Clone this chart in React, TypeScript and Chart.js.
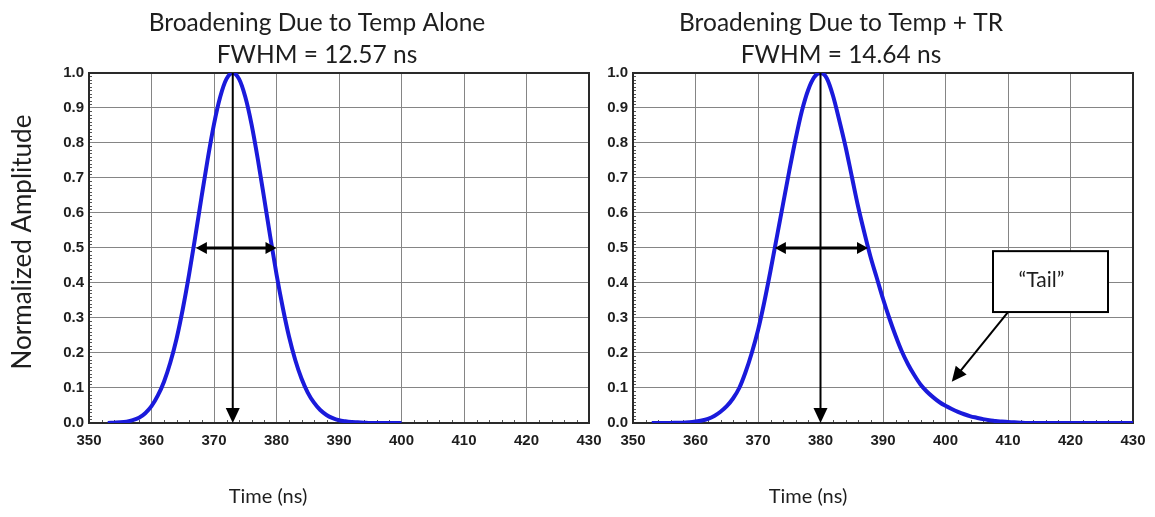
import React, { useEffect, useRef } from "react";
import { Chart, registerables } from "chart.js";

Chart.register(...registerables);

// ---------------- data ----------------
const timeTicks = [350, 360, 370, 380, 390, 400, 410, 420, 430];
const amplitudeTicks = [0, 0.1, 0.2, 0.3, 0.4, 0.5, 0.6, 0.7, 0.8, 0.9, 1.0];

const leftTitle = ["Broadening Due to Temp Alone", "FWHM = 12.57 ns"];
const rightTitle = ["Broadening Due to Temp + TR", "FWHM = 14.64 ns"];
const yAxisTitle = "Normalized Amplitude";
const xAxisTitle = "Time (ns)";
const tailText = "\u201CTail\u201D";

const tempAloneTime = [
  353, 354, 355, 356, 357, 358, 359, 360, 361, 362, 363, 364, 365, 366, 367, 368,
  369, 370, 371, 372, 373, 374, 375, 376, 377, 378, 379, 380, 381, 382, 383, 384,
  385, 386, 387, 388, 389, 390, 391, 392, 393, 394, 395, 396, 397, 398, 399, 400,
];
const tempAloneAmplitude = [
  0, 0.001, 0.002, 0.004, 0.008, 0.015, 0.028, 0.048, 0.078, 0.118, 0.172, 0.24,
  0.325, 0.423, 0.532, 0.645, 0.755, 0.854, 0.932, 0.983, 1.0, 0.983, 0.932, 0.854,
  0.755, 0.645, 0.532, 0.425, 0.33, 0.247, 0.18, 0.127, 0.087, 0.058, 0.037, 0.023,
  0.014, 0.008, 0.005, 0.003, 0.002, 0.001, 0, 0, 0, 0, 0, 0,
];

const tempTrTime = [
  353, 354, 355, 356, 357, 358, 359, 360, 361, 362, 363, 364, 365, 366, 367, 368,
  369, 370, 371, 372, 373, 374, 375, 376, 377, 378, 379, 380, 381, 382, 383, 384,
  385, 386, 387, 388, 389, 390, 391, 392, 393, 394, 395, 396, 397, 398, 399, 400,
  401, 402, 403, 404, 405, 406, 407, 408, 409, 410, 411, 412, 413, 414, 415, 416,
  417, 418, 419, 420, 421, 422, 423, 424, 425, 426, 427, 428, 429, 430,
];
const tempTrAmplitude = [
  0, 0, 0, 0, 0.001, 0.001, 0.002, 0.004, 0.007, 0.012, 0.02, 0.032,
  0.048, 0.07, 0.1, 0.145, 0.2, 0.265, 0.345, 0.435, 0.53, 0.625, 0.72, 0.81,
  0.89, 0.95, 0.988, 1.0, 0.985, 0.935, 0.865, 0.79, 0.705, 0.62, 0.545, 0.475,
  0.415, 0.355, 0.3, 0.25, 0.205, 0.168, 0.137, 0.11, 0.09, 0.074, 0.06, 0.049,
  0.04, 0.032, 0.025, 0.019, 0.015, 0.011, 0.008, 0.006, 0.004, 0.003, 0.002, 0.001,
  0, 0, 0, 0, 0, 0, 0, 0, 0, 0, 0, 0, 0, 0, 0, 0, 0, 0,
];

// annotation values (data units)
const tempAlonePeak = 373;
const tempAloneHalfMax = [367.1, 380.0];
const tempTrPeak = 380;
const tempTrHalfMax = [372.7, 387.6];
const halfMaxLevel = 0.5;
const tailBox = { x1: 407.6, x2: 426.0, yTop: 0.491, yBottom: 0.317 };
const tailArrow = { fromX: 410.0, fromY: 0.317, toX: 401.0, toY: 0.118 };

// ---------------- styling ----------------
const TEXT_FONT = "Lato, 'Open Sans', sans-serif";
const TICK_FONT = "'Liberation Sans', Arial, sans-serif";
const LINE_BLUE = "#1a1adb";
const GRID_GREY = "#858585";
const INK = "#1e1e1e";

function drawHead(ctx: any, tx: number, ty: number, angle: number, len: number, halfW: number) {
  const bx = tx - len * Math.cos(angle);
  const by = ty - len * Math.sin(angle);
  ctx.beginPath();
  ctx.moveTo(tx, ty);
  ctx.lineTo(bx + halfW * Math.sin(angle), by - halfW * Math.cos(angle));
  ctx.lineTo(bx - halfW * Math.sin(angle), by + halfW * Math.cos(angle));
  ctx.closePath();
  ctx.fill();
}

const marksPlugin = {
  id: "marks",
  beforeDatasetsDraw(chart: any) {
    const { ctx, chartArea: a, scales } = chart;
    const x = scales.x;
    const y = scales.y;
    ctx.save();
    ctx.strokeStyle = "#555";
    ctx.lineWidth = 1;
    for (let i = 1; i < 100; i++) {
      if (i % 10 === 0) continue;
      const py = Math.round(y.getPixelForValue(i / 100)) + 0.5;
      ctx.beginPath();
      ctx.moveTo(a.left, py);
      ctx.lineTo(a.left + 3, py);
      ctx.stroke();
    }
    for (let v = 352; v < 430; v += 2) {
      if (v % 10 === 0) continue;
      const px = Math.round(x.getPixelForValue(v)) + 0.5;
      ctx.beginPath();
      ctx.moveTo(px, a.bottom);
      ctx.lineTo(px, a.bottom - 3);
      ctx.stroke();
    }
    ctx.strokeStyle = "#2a2a2a";
    ctx.lineWidth = 2;
    ctx.strokeRect(a.left, a.top, a.right - a.left, a.bottom - a.top);
    ctx.restore();
  },
  afterDatasetsDraw(chart: any, _args: any, opts: any) {
    const { ctx, chartArea: a, scales } = chart;
    const x = scales.x;
    const y = scales.y;
    ctx.save();
    ctx.strokeStyle = "#000";
    ctx.fillStyle = "#000";

    // vertical peak arrow
    const px = x.getPixelForValue(opts.peak);
    const headLen = 15;
    ctx.lineWidth = 2;
    ctx.beginPath();
    ctx.moveTo(px, y.getPixelForValue(1.0));
    ctx.lineTo(px, a.bottom - headLen + 1);
    ctx.stroke();
    drawHead(ctx, px, a.bottom, Math.PI / 2, headLen, 7);

    // horizontal FWHM double arrow
    const hy = y.getPixelForValue(halfMaxLevel);
    const hx1 = x.getPixelForValue(opts.half[0]);
    const hx2 = x.getPixelForValue(opts.half[1]);
    ctx.lineWidth = 3;
    ctx.beginPath();
    ctx.moveTo(hx1 + 8, hy);
    ctx.lineTo(hx2 - 8, hy);
    ctx.stroke();
    drawHead(ctx, hx1, hy, Math.PI, 11, 6);
    drawHead(ctx, hx2, hy, 0, 11, 6);

    // tail call-out
    if (opts.tail) {
      const bx1 = x.getPixelForValue(tailBox.x1);
      const bx2 = x.getPixelForValue(tailBox.x2);
      const by1 = y.getPixelForValue(tailBox.yTop);
      const by2 = y.getPixelForValue(tailBox.yBottom);
      ctx.fillStyle = "#fff";
      ctx.fillRect(bx1, by1, bx2 - bx1, by2 - by1);
      ctx.strokeStyle = "#000";
      ctx.lineWidth = 2;
      ctx.strokeRect(bx1, by1, bx2 - bx1, by2 - by1);
      ctx.fillStyle = INK;
      ctx.font = `21px ${TEXT_FONT}`;
      ctx.textAlign = "center";
      ctx.textBaseline = "middle";
      ctx.fillText(tailText, (bx1 + bx2) / 2 - 9, by1 + 29);

      const fx = x.getPixelForValue(tailArrow.fromX);
      const fy = y.getPixelForValue(tailArrow.fromY);
      const tx = x.getPixelForValue(tailArrow.toX);
      const ty = y.getPixelForValue(tailArrow.toY);
      const ang = Math.atan2(ty - fy, tx - fx);
      ctx.fillStyle = "#000";
      ctx.lineWidth = 2;
      ctx.beginPath();
      ctx.moveTo(fx, fy);
      ctx.lineTo(tx - 12 * Math.cos(ang), ty - 12 * Math.sin(ang));
      ctx.stroke();
      drawHead(ctx, tx, ty, ang, 15, 7);
    }
    ctx.restore();
  },
  afterDraw(chart: any, _args: any, opts: any) {
    const { ctx, chartArea: a } = chart;
    ctx.save();
    ctx.fillStyle = INK;
    ctx.font = `20px ${TEXT_FONT}`;
    ctx.textAlign = "center";
    ctx.textBaseline = "middle";
    ctx.fillText(xAxisTitle, a.left + opts.xTitleOffset, 497);
    if (opts.yTitle) {
      ctx.translate(23, 242);
      ctx.rotate(-Math.PI / 2);
      ctx.font = `26px ${TEXT_FONT}`;
      ctx.fillText(yAxisTitle, 0, 0);
    }
    ctx.restore();
  },
};

function makeConfig(p: any) {
  return {
    type: "line",
    data: {
      datasets: [
        {
          data: p.times.map((t: number, i: number) => ({ x: t, y: p.amps[i] })),
          borderColor: LINE_BLUE,
          borderWidth: 4,
          pointRadius: 0,
          fill: false,
          cubicInterpolationMode: "monotone",
        },
      ],
    },
    options: {
      animation: false,
      responsive: false,
      devicePixelRatio: 1,
      layout: { padding: { left: p.padLeft, right: p.padRight, top: 0, bottom: 0 } },
      plugins: {
        legend: { display: false },
        tooltip: { enabled: false },
        title: {
          display: true,
          text: p.title,
          color: INK,
          font: { family: TEXT_FONT, size: 24.5, weight: "normal", lineHeight: 1.306 },
          padding: { top: 7, bottom: 2 },
        },
        marks: {
          peak: p.peak,
          half: p.half,
          tail: p.tail,
          xTitleOffset: p.xTitleOffset,
          yTitle: p.yTitle,
        },
      },
      scales: {
        x: {
          type: "linear",
          min: 350,
          max: 430,
          afterBuildTicks: (s: any) => {
            s.ticks = timeTicks.map((v) => ({ value: v }));
          },
          afterFit: (s: any) => {
            s.height = 94;
            s.paddingLeft = 0;
            s.paddingRight = 0;
          },
          grid: { color: GRID_GREY, lineWidth: 1, drawTicks: false },
          border: { display: false },
          ticks: {
            padding: 9,
            color: INK,
            autoSkip: false,
            maxRotation: 0,
            font: { family: TICK_FONT, size: 15, weight: "bold" },
            callback: (v: any) => String(v),
          },
        },
        y: {
          min: 0,
          max: 1,
          afterBuildTicks: (s: any) => {
            s.ticks = amplitudeTicks.map((v) => ({ value: v }));
          },
          afterFit: (s: any) => {
            s.width = p.yWidth;
            s.paddingTop = 0;
            s.paddingBottom = 0;
          },
          grid: { color: GRID_GREY, lineWidth: 1, drawTicks: false },
          border: { display: false },
          ticks: {
            padding: 5,
            color: INK,
            font: { family: TICK_FONT, size: 15, weight: "bold" },
            callback: (v: any) => Number(v).toFixed(1),
          },
        },
      },
    },
    plugins: [marksPlugin],
  };
}

function ChartCanvas(props: any) {
  const ref = useRef<HTMLCanvasElement | null>(null);
  useEffect(() => {
    if (!ref.current) return;
    const chart = new Chart(ref.current, makeConfig(props.cfg) as any);
    return () => chart.destroy();
  }, []);
  return (
    <canvas
      ref={ref}
      width={props.width}
      height={517}
      style={{ position: "absolute", left: props.left, top: 0, width: props.width, height: 517 }}
    />
  );
}

export default function App() {
  return (
    <div style={{ position: "absolute", left: 0, top: 0, width: 1155, height: 517, background: "#fff" }}>
      <ChartCanvas
        left={0}
        width={634}
        cfg={{
          times: tempAloneTime,
          amps: tempAloneAmplitude,
          title: leftTitle,
          peak: tempAlonePeak,
          half: tempAloneHalfMax,
          tail: false,
          yTitle: true,
          yWidth: 44,
          padLeft: 45,
          padRight: 45,
          xTitleOffset: 179,
        }}
      />
      <ChartCanvas
        left={527}
        width={628}
        cfg={{
          times: tempTrTime,
          amps: tempTrAmplitude,
          title: rightTitle,
          peak: tempTrPeak,
          half: tempTrHalfMax,
          tail: true,
          yTitle: false,
          yWidth: 84,
          padLeft: 22,
          padRight: 22,
          xTitleOffset: 175,
        }}
      />
    </div>
  );
}
